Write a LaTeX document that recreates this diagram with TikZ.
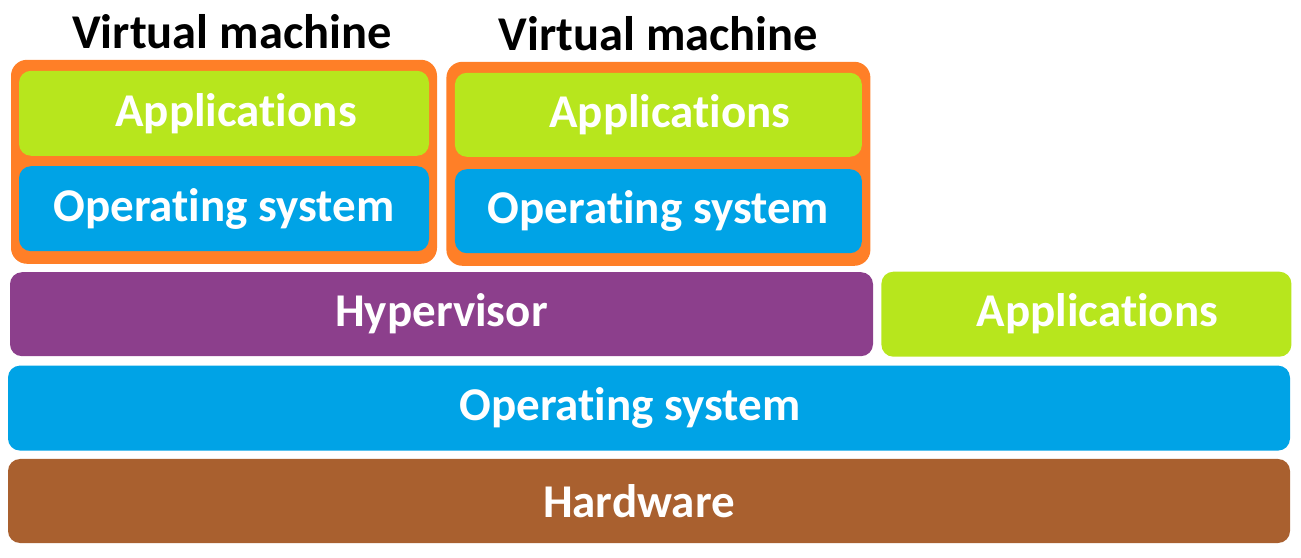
\documentclass[tikz,border=0pt]{standalone}
\usepackage{fontspec}
\setmainfont[RawFeature={-liga;-clig;-calt;-dlig}]{Carlito}
\usepackage{tikz}
\usetikzlibrary{positioning}

\definecolor{vmorange}{HTML}{FF7F27}
\definecolor{applime}{HTML}{B7E61D}
\definecolor{osblue}{HTML}{00A3E6}
\definecolor{hyppurple}{HTML}{8C3F8C}
\definecolor{hwbrown}{HTML}{A9602F}

\begin{document}
\begin{tikzpicture}[x=1pt,y=1pt,
	layer/.style={rounded corners=12pt,inner sep=0pt,text=white,
		font=\fontsize{47}{56}\selectfont\bfseries},
	vmbox/.style={fill=vmorange,rounded corners=16pt,inner sep=0pt,
		minimum width=426pt,minimum height=204pt},
	title/.style={inner sep=0pt,font=\fontsize{48.5}{58}\selectfont\bfseries}]
	\useasboundingbox (0,0) rectangle (1301,557);
	\node[layer,fill=hwbrown,minimum width=1282pt,minimum height=84pt] (hw) at (649,56) {Hardware\hspace*{20pt}};
	\node[layer,fill=osblue,minimum width=1282pt,minimum height=85pt] (os) [above=8pt of hw] {Operat\kern0pt ing system\hspace*{38pt}};
	\node[layer,fill=hyppurple,minimum width=863pt,minimum height=84pt] (hyp) [above right=9pt and 2pt of os.north west,anchor=south west] {Hypervisor};
	\node[layer,fill=applime,minimum width=410pt,minimum height=85pt] (apps) [right=8pt of hyp] {\hspace*{22pt}Applications};
	\node[vmbox] (vm1) [above right=8pt and 1pt of hyp.north west,anchor=south west] {};
	\node[vmbox,minimum width=424pt] (vm2) [right=9pt of vm1,yshift=-2pt] {};
	\node[layer,fill=applime,minimum width=410pt,minimum height=85pt] (apps1) [below=11pt of vm1.north,anchor=north] {\hspace*{24pt}Applications};
	\node[layer,fill=osblue,minimum width=410pt,minimum height=85pt] (os1) [below=10pt of apps1] {Operat\kern0pt ing system};
	\node[layer,fill=applime,minimum width=407pt,minimum height=84pt] (apps2) [below=11pt of vm2.north,anchor=north] {\hspace*{23pt}Applications};
	\node[layer,fill=osblue,minimum width=407pt,minimum height=84pt] (os2) [below=12pt of apps2] {Operat\kern0pt ing system};
	\node[title] (vmtitle1) [above=11pt of vm1,xshift=8pt] {Virtual machine};
	\node[title] (vmtitle2) [above=11pt of vm2] {Virtual machine};
\end{tikzpicture}
\end{document}
